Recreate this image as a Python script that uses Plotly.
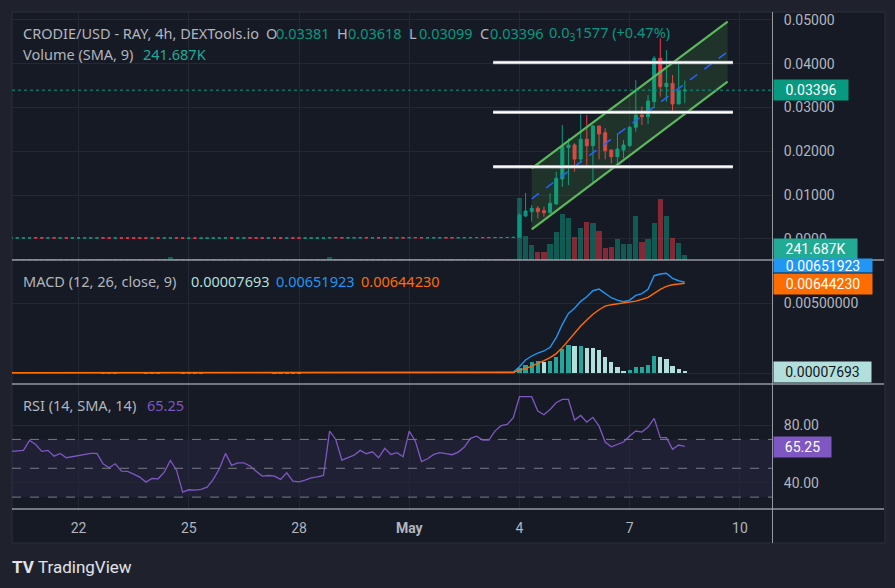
import plotly.graph_objects as go
import pandas as pd

W, H = 895, 588
FONT = "Roboto"
HFONT = "Noto Sans"
FS = 14
HFS = 14.5
UP, DOWN = "#089981", "#f23645"
GRID = "#242834"
TXT = "#b2b5be"

# ---------------- data ----------------
# candle times (4h), 83 pre-launch candles + 28 after launch
times = pd.date_range("2024-04-20 04:00", periods=111, freq="4h")

# pre-launch closes (units of 1e-5 USD)
pre_close_e5 = [20, 20.2, 20.4, 22, 21.5, 20.5, 20.7, 19.8, 20.2, 19.6,
                19.8, 20.0, 20.1, 20.3, 20.3, 19.2, 18.8, 19.3, 18.5, 18.4,
                18.2, 17.9, 17.4, 17.8, 17.7, 18.5, 20.0, 18.8, 15.5, 15.9,
                15.8, 15.9, 16.2, 17.2, 18.5, 20.8, 19.4, 19.8, 19.8, 19.4,
                18.8, 18.2, 18.3, 18.2, 17.8, 18.6, 17.6, 17.5, 17.7, 18.0,
                18.1, 18.3, 26.0, 24.5, 21.5, 21.9, 22.3, 23.0, 22.6, 22.9,
                22.0, 23.5, 22.6, 22.9, 22.3, 27.0, 25.5, 22.5, 23.0, 23.7,
                24.0, 23.8, 23.7, 24.1, 25.0, 26.8, 27.4, 26.9, 26.9, 28.5,
                30.0, 30.5, 33.0]
pre_first_open_e5 = 19.9

launch_open = [0.00034, 0.00521, 0.00619, 0.00697, 0.00642, 0.00596, 0.00795, 0.01366, 0.02082, 0.02143,
               0.01823, 0.02274, 0.02127, 0.02577, 0.02424, 0.02029, 0.01876, 0.02029, 0.02127, 0.02548,
               0.02829, 0.02790, 0.03133, 0.04124, 0.03475, 0.03553, 0.03080, 0.03381]
launch_high = [0.00580, 0.01047, 0.00772, 0.00749, 0.00733, 0.01040, 0.01533, 0.02600, 0.02296, 0.02182,
               0.02845, 0.02829, 0.02600, 0.02577, 0.02525, 0.02030, 0.02411, 0.02258, 0.02577, 0.03629,
               0.03018, 0.03286, 0.04177, 0.04581, 0.04314, 0.03743, 0.04010, 0.03618]
launch_low = [0.00030, 0.00505, 0.00391, 0.00468, 0.00505, 0.00583, 0.00780, 0.01190, 0.01229, 0.01533,
              0.01725, 0.01686, 0.01268, 0.01817, 0.01817, 0.01725, 0.01686, 0.01839, 0.02104, 0.02447,
              0.02600, 0.02623, 0.02982, 0.03247, 0.03133, 0.02904, 0.03080, 0.03099]
launch_close = [0.00544, 0.00635, 0.00697, 0.00619, 0.00596, 0.00811, 0.01382, 0.02104, 0.02143, 0.01823,
                0.02274, 0.02127, 0.02577, 0.02395, 0.02013, 0.01876, 0.02052, 0.02143, 0.02548, 0.02829,
                0.02790, 0.03149, 0.04124, 0.03475, 0.03553, 0.03080, 0.03381, 0.03396]

# volume in thousands
pre_volume_k = [7, 8, 6, 9, 7, 6, 8, 7, 6, 7, 8, 6, 7, 7, 6, 8, 7, 9, 8, 7,
                6, 7, 8, 6, 7, 9, 26, 8, 7, 6, 8, 7, 6, 7, 8, 9, 7, 6, 8, 7,
                6, 7, 8, 7, 6, 7, 8, 6, 7, 7, 8, 9, 26, 10, 9, 8, 7, 8, 7, 6,
                8, 9, 8, 7, 6, 8, 7, 8, 7, 6, 7, 8, 7, 6, 8, 9, 8, 7, 8, 9,
                10, 9, 12]
launch_volume_k = [497, 193, 121, 67, 67, 129, 228, 371, 336, 183, 255, 309, 296, 236, 99, 107,
                   167, 129, 129, 355, 147, 167, 301, 492, 355, 180, 139, 40]

# MACD (units of 1e-5)
pre_macd_e5 = [2, 2, 2, 3, 3, 2, 2, 2, 2, 2, 2, 2, 2, 2, 2, 1, 1, 1, 1, 1,
               1, 1, 0, 0, 0, 1, 1, 1, 0, 0, 0, 0, 0, 0, 1, 1, 1, 1, 1, 1,
               1, 1, 1, 0, 0, 0, 0, 0, 0, 0, 0, 0, 1, 2, 2, 2, 2, 2, 2, 2,
               2, 2, 2, 2, 2, 3, 3, 3, 3, 3, 3, 3, 3, 3, 3, 3, 4, 4, 4, 4,
               5, 5, 6]
pre_signal_e5 = [2, 2, 2, 2, 2, 2, 2, 2, 2, 2, 2, 2, 2, 2, 2, 2, 2, 2, 1, 1,
                 1, 1, 1, 1, 1, 1, 1, 1, 1, 1, 1, 1, 0, 0, 0, 0, 1, 1, 1, 1,
                 1, 1, 1, 1, 1, 1, 1, 1, 0, 0, 0, 0, 0, 0, 1, 1, 1, 1, 1, 2,
                 2, 2, 2, 2, 2, 2, 2, 2, 2, 2, 3, 3, 3, 3, 3, 3, 3, 3, 3, 3,
                 4, 4, 4]
pre_hist_e5 = [0, 0, 0, 1, 1, 0, 0, 0, 0, 0, 0, 0, 0, 0, 0, -1, -1, -1, 0, 0,
               0, 0, -1, -1, -1, 0, 0, 0, -1, -1, -1, -1, 0, 0, 1, 1, 0, 0, 0, 0,
               0, 0, 0, -1, -1, -1, -1, -1, 0, 0, 0, 0, 1, 2, 1, 1, 1, 1, 1, 0,
               0, 0, 0, 0, 0, 1, 1, 1, 1, 1, 0, 0, 0, 0, 0, 0, 1, 1, 1, 1,
               1, 1, 2]
launch_macd_e5 = [45, 93, 122, 143, 158, 184, 253, 349, 428, 464, 514, 547, 590, 602, 571, 540,
                  523, 511, 523, 557, 569, 600, 698, 710, 715, 679, 662, 651.923]
launch_signal_e5 = [22, 31, 50, 67, 88, 110, 139, 182, 232, 289, 337, 380, 421, 454, 480, 490,
                    497, 500, 507, 516, 528, 543, 571, 600, 622, 633, 638, 644.230]
launch_hist_e5 = [36, 60, 76, 84, 76, 84, 112, 172, 203, 191, 196, 182, 182, 163, 112, 76,
                  41, 17, 24, 45, 46, 60, 124, 117, 103, 53, 31, 7.693]

# RSI (14, SMA 14)
pre_rsi = [61.7, 62.1, 62.4, 69.3, 66.5, 61.7, 62.4, 58.4, 60.3, 57.3,
           58.0, 58.9, 59.4, 60.3, 60.3, 53.1, 50.3, 53.1, 48.0, 47.8,
           46.0, 43.9, 40.4, 42.9, 42.7, 47.3, 55.4, 48.7, 33.5, 35.1,
           34.9, 35.3, 36.9, 42.3, 49.7, 60.3, 52.0, 53.8, 53.8, 51.5,
           48.0, 44.6, 45.0, 44.6, 42.3, 46.9, 41.1, 40.6, 41.8, 43.4,
           44.1, 45.0, 75.8, 70.0, 55.7, 57.3, 59.1, 62.4, 60.1, 61.4,
           57.3, 63.8, 59.6, 60.8, 58.0, 75.8, 68.8, 54.7, 56.6, 59.6,
           60.8, 60.1, 59.4, 61.2, 64.7, 70.7, 72.3, 69.5, 69.5, 75.8,
           79.5, 80.4, 85.0]
launch_rsi = [99.6, 99.6, 99.6, 89.7, 87.1, 90.8, 95.4, 97.7, 97.7, 83.4, 86.6, 82.0, 85.3, 79.2,
              68.2, 64.9, 66.5, 68.2, 72.3, 75.8, 75.1, 78.6, 84.6, 71.2, 71.2, 63.1, 66.1, 65.25]

# drawings
channel_times = ["2024-05-04 08:00", "2024-05-09 16:00"]
channel_upper = [0.01611, 0.04961]
channel_lower = [0.00217, 0.03590]
level_times = ["2024-05-03 06:50", "2024-05-09 19:25"]
level_prices = [0.04030, 0.02890, 0.01648]
last_price = 0.03396

x_ticks = ["2024-04-22", "2024-04-25", "2024-04-28", "2024-05-01", "2024-05-04", "2024-05-07", "2024-05-10"]
x_labels = ["22", "25", "28", "<b>May</b>", "4", "7", "10"]
x_range = ["2024-04-20 04:32", "2024-05-10 20:58"]

price_ticks = [0.0, 0.01, 0.02, 0.03, 0.04, 0.05]
price_labels = ["0.0000", "0.01000", "0.02000", "0.03000", "0.04000", "0.05000"]

# ---------------- assemble series ----------------
pre_close = [v * 1e-5 for v in pre_close_e5]
pre_open = [pre_first_open_e5 * 1e-5] + pre_close[:-1]
pre_high = [max(a, b) for a, b in zip(pre_open, pre_close)]
pre_low = [min(a, b) for a, b in zip(pre_open, pre_close)]

o = pre_open + launch_open
h = pre_high + launch_high
l = pre_low + launch_low
c = pre_close + launch_close
vol = [v * 1000 for v in pre_volume_k + launch_volume_k]
macd = [v * 1e-5 for v in pre_macd_e5 + launch_macd_e5]
signal = [v * 1e-5 for v in pre_signal_e5 + launch_signal_e5]
hist = [v * 1e-5 for v in pre_hist_e5 + launch_hist_e5]
rsi = pre_rsi + launch_rsi

vol_colors = ["rgba(8,153,129,0.5)" if cc >= oo else "rgba(242,54,69,0.5)" for oo, cc in zip(o, c)]
hist_colors = []
prev = 0
for v in hist:
    if v >= 0:
        hist_colors.append("#26a69a" if v > prev else "#b2dfdb")
    else:
        hist_colors.append("#ffcdd2" if v > prev else "#ff5252")
    prev = v

BAR_MS = 4 * 3600 * 1000


def px(x):
    return x / W


def py(y):
    return 1 - y / H


fig = go.Figure()

# volume (base axis of main pane, drawn below candles)
fig.add_trace(go.Bar(x=times, y=vol, marker=dict(color=vol_colors, line=dict(width=0)),
                     width=0.86 * BAR_MS, xaxis="x", yaxis="y", hoverinfo="skip"))
# candles
fig.add_trace(go.Candlestick(x=times, open=o, high=h, low=l, close=c, xaxis="x", yaxis="y4",
                             increasing=dict(line=dict(color=UP, width=1), fillcolor=UP),
                             decreasing=dict(line=dict(color=DOWN, width=1), fillcolor=DOWN),
                             whiskerwidth=0, hoverinfo="skip"))
# channel
fig.add_trace(go.Scatter(x=[channel_times[0], channel_times[1], channel_times[1], channel_times[0]],
                         y=[channel_upper[0], channel_upper[1], channel_lower[1], channel_lower[0]],
                         fill="toself", fillcolor="rgba(76,175,80,0.17)", mode="lines",
                         line=dict(width=0), xaxis="x", yaxis="y4", hoverinfo="skip"))
fig.add_trace(go.Scatter(x=channel_times, y=channel_upper, mode="lines",
                         line=dict(color="#5cb85c", width=2.2), xaxis="x", yaxis="y4", hoverinfo="skip"))
fig.add_trace(go.Scatter(x=channel_times, y=channel_lower, mode="lines",
                         line=dict(color="#5cb85c", width=2.2), xaxis="x", yaxis="y4", hoverinfo="skip"))
fig.add_trace(go.Scatter(x=channel_times,
                         y=[(a + b) / 2 for a, b in zip(channel_upper, channel_lower)], mode="lines",
                         line=dict(color="#2962ff", width=1.5, dash="dash"), xaxis="x", yaxis="y4",
                         hoverinfo="skip"))
# MACD
fig.add_trace(go.Bar(x=times, y=hist, marker=dict(color=hist_colors, line=dict(width=0)),
                     width=0.7 * BAR_MS, xaxis="x2", yaxis="y2", hoverinfo="skip"))
fig.add_trace(go.Scatter(x=times, y=macd, mode="lines", line=dict(color="#2196f3", width=1.4),
                         xaxis="x2", yaxis="y2", hoverinfo="skip"))
fig.add_trace(go.Scatter(x=times, y=signal, mode="lines", line=dict(color="#ff6d00", width=1.4),
                         xaxis="x2", yaxis="y2", hoverinfo="skip"))
# RSI
fig.add_trace(go.Scatter(x=times, y=rsi, mode="lines", line=dict(color="#7e57c2", width=1.3),
                         xaxis="x3", yaxis="y3", hoverinfo="skip"))

xdom = [px(12), px(772)]
tickfont = dict(family=FONT, size=FS, color=TXT)
common_x = dict(type="date", range=x_range, tickvals=x_ticks, showgrid=True, gridcolor=GRID,
                gridwidth=1, zeroline=False, showline=False, domain=xdom, fixedrange=True)
common_y = dict(side="right", showgrid=True, gridcolor=GRID, zeroline=False, showline=False,
                ticks="outside", ticklen=8, tickcolor="rgba(0,0,0,0)", tickfont=tickfont,
                fixedrange=True)

shapes = [
    # chart frame
    dict(type="rect", xref="paper", yref="paper", x0=px(12), x1=px(885), y0=py(543), y1=py(12),
         fillcolor="#161a25", line=dict(color="#2a2e39", width=1), layer="below"),
    # RSI band
    dict(type="rect", xref="paper", yref="y3", x0=xdom[0], x1=xdom[1], y0=30, y1=70,
         fillcolor="rgba(126,87,194,0.10)", line=dict(width=0), layer="below"),
]
for lv in (70, 50, 30):
    shapes.append(dict(type="line", xref="paper", yref="y3", x0=xdom[0], x1=xdom[1], y0=lv, y1=lv,
                       line=dict(color="#787b86", width=1, dash="dash")))
# last price dotted line
shapes.append(dict(type="line", xref="paper", yref="y4", x0=xdom[0], x1=xdom[1],
                   y0=last_price, y1=last_price, line=dict(color=UP, width=1, dash="dot")))
# horizontal levels
for lp in level_prices:
    shapes.append(dict(type="line", xref="x", yref="y4", x0=level_times[0], x1=level_times[1],
                       y0=lp, y1=lp, line=dict(color="#9a9ca3", width=3.5)))
    shapes.append(dict(type="line", xref="x", yref="y4", x0=level_times[0], x1=level_times[1],
                       y0=lp, y1=lp, line=dict(color="#ffffff", width=2)))
# pane separators / axis borders
for yy in (260, 384, 509):
    shapes.append(dict(type="line", xref="paper", yref="paper", x0=px(12), x1=px(884),
                       y0=py(yy), y1=py(yy), line=dict(color="#d1d4dc", width=1)))
shapes.append(dict(type="line", xref="paper", yref="paper", x0=px(772.5), x1=px(772.5),
                   y0=py(543), y1=py(12), line=dict(color="#9598a1", width=1)))


def txt(x, y, s, color, size=HFS, family=HFONT):
    return dict(x=px(x), y=py(y), xref="paper", yref="paper", text=s, showarrow=False,
                xanchor="left", yanchor="middle", borderpad=0,
                font=dict(family=family, size=size, color=color))


def box(y, s, bg, fg, w, hgt=20):
    return dict(x=px(772.5), y=py(y), xref="paper", yref="paper", text=s, showarrow=False,
                xanchor="left", yanchor="middle", bgcolor=bg, width=w, height=hgt, borderpad=0,
                align="center", font=dict(family=FONT, size=FS, color=fg))


GREEN_T = "#089981"
annotations = [
    txt(22, 33, "CRODIE/USD - RAY, 4h, DEXTools.io", TXT),
    txt(264.5, 33, "O", TXT), txt(275, 33, "0.03381", GREEN_T),
    txt(336, 33, "H", TXT), txt(346.5, 33, "0.03618", GREEN_T),
    txt(408, 33, "L", TXT), txt(418, 33, "0.03099", GREEN_T),
    txt(479, 33, "C", TXT), txt(489, 33, "0.03396", GREEN_T),
    txt(548, 33, "0.0<sub>3</sub>1577 (+0.47%)", GREEN_T),
    txt(22, 54, "Volume (SMA, 9)", TXT), txt(141.5, 54, "241.687K", "#22ab94"),
    txt(22, 281, "MACD (12, 26, close, 9)", TXT),
    txt(189.5, 281, "0.00007693", "#b2dfdb"),
    txt(274.5, 281, "0.00651923", "#2196f3"),
    txt(359.5, 281, "0.00644230", "#ff6d00"),
    txt(22, 405, "RSI (14, SMA, 14)", TXT), txt(146, 405, "65.25", "#7e57c2"),
    box(90.5, "0.03396", "#089981", "#ffffff", 74),
    box(249, "241.687K", "#22ab94", "#ffffff", 83),
    box(266, "0.00651923", "#2196f3", "#ffffff", 98, 13),
    box(284, "0.00644230", "#ff6d00", "#ffffff", 98),
    box(372, "0.00007693", "#b2dfdb", "#131722", 97),
    box(446.5, "65.25", "#7e57c2", "#ffffff", 57),
    txt(11, 567, "<b>TV</b>", "#e0e3eb", 17, FONT),
    txt(37, 567, "TradingView", "#e0e3eb", 17, FONT),
]

fig.update_layout(
    width=W, height=H, autosize=False,
    margin=dict(l=0, r=0, t=0, b=0),
    paper_bgcolor="#1f222d", plot_bgcolor="rgba(0,0,0,0)",
    showlegend=False, hovermode=False,
    xaxis=dict(**common_x, anchor="y", showticklabels=False, rangeslider=dict(visible=False)),
    xaxis2=dict(**common_x, anchor="y2", showticklabels=False, matches="x"),
    xaxis3=dict(**common_x, anchor="y3", ticktext=x_labels, tickfont=tickfont, ticks="outside",
                ticklen=6, tickcolor="rgba(0,0,0,0)", matches="x"),
    yaxis=dict(domain=[py(260), py(12)], anchor="x", range=[0, 2.0e6], visible=False,
               fixedrange=True),
    yaxis4=dict(**common_y, overlaying="y", anchor="x", range=[-0.004844, 0.05182],
                tickvals=price_ticks, ticktext=price_labels),
    yaxis2=dict(**common_y, domain=[py(384), py(260)], anchor="x2", range=[-0.000789, 0.008106],
                tickvals=[0.0, 0.005], ticktext=["0.00000000", "0.00500000"]),
    yaxis3=dict(**common_y, domain=[py(509), py(384)], anchor="x3", range=[21.77, 108.42],
                tickvals=[40, 80], ticktext=["40.00", "80.00"]),
    shapes=shapes,
    annotations=annotations,
    bargap=0,
)

fig.write_html("out.html", config={"displayModeBar": False})
